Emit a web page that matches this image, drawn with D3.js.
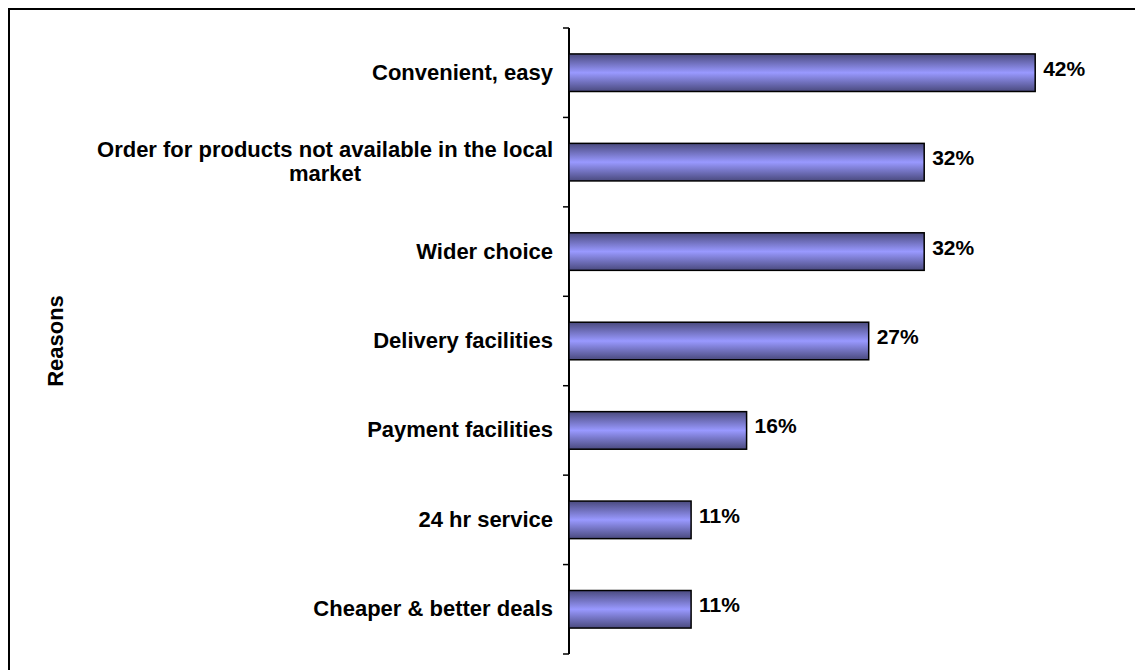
<!DOCTYPE html>
<html>
<head>
<meta charset="utf-8">
<script src="https://cdn.jsdelivr.net/npm/d3@7"></script>
<style>
  body { margin: 0; background: #fff; }
  svg text { font-family: "Liberation Sans", Arial, sans-serif; font-weight: bold; fill: #000; }
</style>
</head>
<body>
<svg id="chart"></svg>
<script>
// data
const reasons = [
  ["Convenient, easy"],
  ["Order for products not available in the local", "market"],
  ["Wider choice"],
  ["Delivery facilities"],
  ["Payment facilities"],
  ["24 hr service"],
  ["Cheaper & better deals"]
];
const shares = [42, 32, 32, 27, 16, 11, 11];
const axisTitle = "Reasons";

const W = 1135, H = 670;
const svg = d3.select("#chart").attr("width", W).attr("height", H);

// frame (only top and left show in the picture)
svg.append("rect").attr("x", 9).attr("y", 9).attr("width", W + 10).attr("height", H + 10)
  .attr("fill", "none").attr("stroke", "#000").attr("stroke-width", 2);

// bar gradient: dark edges, light middle
const defs = svg.append("defs");
const grad = defs.append("linearGradient").attr("id", "barGrad")
  .attr("x1", 0).attr("y1", 0).attr("x2", 0).attr("y2", 1);
grad.append("stop").attr("offset", "0%").attr("stop-color", "#4a4a7e");
grad.append("stop").attr("offset", "50%").attr("stop-color", "#9999ff");
grad.append("stop").attr("offset", "100%").attr("stop-color", "#4a4a7e");

const x0 = 569, plotTop = 28, plotBottom = 654;
const keys = reasons.map((d, i) => i);

const x = d3.scaleLinear().domain([0, 45]).range([x0, x0 + 499.5]);
const y = d3.scaleBand().domain(keys).range([plotTop, plotBottom]).paddingInner(0.58).paddingOuter(0.29);
const step = (plotBottom - plotTop) / keys.length;
const mid = i => y(i) + y.bandwidth() / 2;

// category axis with ticks at the band edges
const axis = svg.append("g");
axis.append("line").attr("x1", x0).attr("x2", x0).attr("y1", plotTop).attr("y2", plotBottom)
  .attr("stroke", "#000").attr("stroke-width", 2);
d3.range(keys.length + 1).forEach(i => {
  axis.append("line").attr("x1", x0 - 6).attr("x2", x0).attr("y1", plotTop + i * step).attr("y2", plotTop + i * step)
    .attr("stroke", "#000").attr("stroke-width", 1.5);
});

// bars
svg.selectAll("rect.bar").data(shares).join("rect").attr("class", "bar")
  .attr("x", x(0))
  .attr("y", (d, i) => y(i))
  .attr("width", d => x(d) - x(0))
  .attr("height", y.bandwidth())
  .attr("fill", "url(#barGrad)")
  .attr("stroke", "#000").attr("stroke-width", 1.5);

// value labels
svg.selectAll("text.val").data(shares).join("text").attr("class", "val")
  .attr("x", d => x(d) + 8)
  .attr("y", (d, i) => mid(i) + 3)
  .attr("font-size", 21)
  .text(d => d + "%");

// category labels (two-line one is centred under its first line)
const labelRight = 553;
svg.selectAll("g.cat").data(reasons).join("g").attr("class", "cat")
  .each(function (lines, i) {
    const g = d3.select(this);
    const first = g.append("text").attr("font-size", 22).attr("text-anchor", "end")
      .attr("x", labelRight).attr("y", mid(i) + 7 - (lines.length - 1) * 12)
      .text(lines[0]);
    if (lines.length > 1) {
      const cx = labelRight - first.node().getComputedTextLength() / 2;
      lines.slice(1).forEach((l, j) => {
        g.append("text").attr("font-size", 22).attr("text-anchor", "middle")
          .attr("x", cx).attr("y", mid(i) + 7 - 12 + 24 * (j + 1))
          .text(l);
      });
    }
  });

// axis title
svg.append("text").attr("transform", "translate(63,341) rotate(-90)")
  .attr("text-anchor", "middle").attr("font-size", 22)
  .text(axisTitle);
</script>
</body>
</html>
